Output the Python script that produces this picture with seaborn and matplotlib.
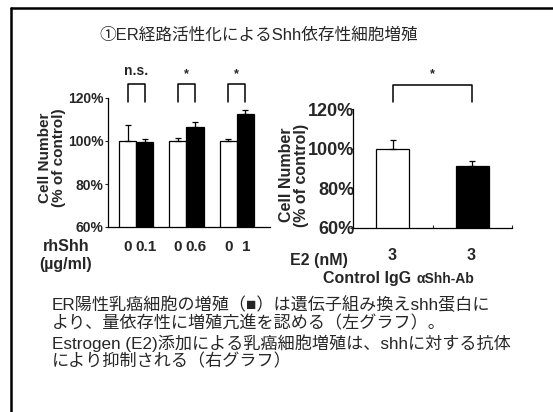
import numpy as np
import pandas as pd
import matplotlib
matplotlib.use("Agg")
import matplotlib.pyplot as plt
from matplotlib.lines import Line2D
import seaborn as sns

sns.set_style("white")
plt.rcParams['font.family'] = ['Liberation Sans', 'Noto Sans CJK JP', 'DejaVu Sans']

# left chart: rhShh dose, control (0) vs rhShh
dose_labels = ['0.1', '0.6', '1']
ctrl_vals = [100, 100, 100]
ctrl_err = [7.6, 1.4, 1.0]
shh_vals = [99.5, 106.7, 112.6]
shh_err = [1.5, 2.2, 2.0]
sig_left = ['n.s.', '*', '*']

# right chart: E2 3 nM with control IgG / anti-Shh antibody
ab_labels = ['Control IgG', 'αShh-Ab']
ab_vals = [100, 91.5]
ab_err = [4.6, 2.4]

yticks = [60, 80, 100, 120]
ytick_labels = ['60%', '80%', '100%', '120%']

W, H = 553, 412
fig = plt.figure(figsize=(W / 100, H / 100), dpi=100)
fig.patch.set_facecolor('white')


def px_axes(x0, y0, x1, y1):
    return fig.add_axes([x0 / W, 1 - y1 / H, (x1 - x0) / W, (y1 - y0) / H])


def T(x, y, s, **kw):
    kw.setdefault('ha', 'center')
    kw.setdefault('va', 'center')
    fig.text(x / W, 1 - y / H, s, **kw)


# frame
fig.add_artist(Line2D([11 / W, 1], [1 - 8 / H, 1 - 8 / H], color='black', lw=1.8))
fig.add_artist(Line2D([11 / W, 11 / W], [1 - 8 / H, 0], color='black', lw=1.8))

T(259, 35, '①ER経路活性化によるShh依存性細胞増殖', fontsize=12)

# ---- left chart
left_df = pd.DataFrame({
    'dose': dose_labels * 2,
    'treat': ['ctrl'] * 3 + ['shh'] * 3,
    'value': ctrl_vals + shh_vals,
})
ax1 = px_axes(108, 98, 270, 227)
sns.barplot(data=left_df, x='dose', y='value', hue='treat',
            palette={'ctrl': 'white', 'shh': 'black'}, edgecolor='black',
            linewidth=0.9, width=0.68, errorbar=None, legend=False, ax=ax1)
bar_x = []
for cont, errs in zip(ax1.containers, [ctrl_err, shh_err]):
    xs = [p.get_x() + p.get_width() / 2 for p in cont]
    hs = [p.get_height() for p in cont]
    ax1.errorbar(xs, hs, yerr=[np.zeros(len(errs)), errs], fmt='none',
                 ecolor='black', elinewidth=0.9, capsize=2, capthick=0.9)
    bar_x.append(xs)
ax1.set_ylim(60, 120)
ax1.set_xlim(-0.56, 2.66)
ax1.set_yticks(yticks)
ax1.set_yticklabels(ytick_labels, fontsize=10, fontweight='bold')
ax1.set_xticks([])
ax1.tick_params(axis='y', direction='out', length=2, width=0.8, pad=1, left=True)
for s in ['top', 'right']:
    ax1.spines[s].set_visible(False)
for s in ['left', 'bottom']:
    ax1.spines[s].set_color('black')
    ax1.spines[s].set_linewidth(0.9)
ax1.set_xlabel('')
ax1.set_ylabel('')

for i, lab in enumerate(sig_left):
    xa, xb = bar_x[0][i], bar_x[1][i]
    ax1.plot([xa, xa, xb, xb], [118.2, 126.5, 126.5, 118.2], color='black',
             lw=1.1, clip_on=False)
    ax1.text((xa + xb) / 2, 129.5 if lab == 'n.s.' else 128.5, lab,
             ha='center', va='bottom', fontsize=10 if lab == 'n.s.' else 9,
             fontweight='bold')

T(52, 158, 'Cell Number\n(% of control)', rotation=90, fontsize=11,
  fontweight='bold', linespacing=1.0)
T(66, 247, 'rhShh', fontsize=11.5, fontweight='bold')
T(66, 264, '(µg/ml)', fontsize=11.5, fontweight='bold')
for i, lab in enumerate(dose_labels):
    xa = ax1.transData.transform((bar_x[0][i], 0))[0]
    xb = ax1.transData.transform((bar_x[1][i], 0))[0]
    T(xa, 247, '0', fontsize=11, fontweight='bold')
    T(xb + 1, 247, lab, fontsize=11, fontweight='bold')

# ---- right chart
right_df = pd.DataFrame({'ab': ab_labels, 'value': ab_vals})
ax2 = px_axes(353, 109, 512, 228)
sns.barplot(data=right_df, x='ab', y='value', hue='ab',
            palette=['white', 'black'], edgecolor='black', linewidth=0.9,
            width=0.41, errorbar=None, legend=False, ax=ax2)
rx = [p.get_x() + p.get_width() / 2 for p in ax2.patches]
rh = [p.get_height() for p in ax2.patches]
ax2.errorbar(rx, rh, yerr=[np.zeros(2), ab_err], fmt='none', ecolor='black',
             elinewidth=0.9, capsize=2.5, capthick=0.9)
ax2.set_ylim(60, 120)
ax2.set_xlim(-0.5, 1.5)
ax2.set_yticks(yticks)
ax2.set_yticklabels(ytick_labels, fontsize=13, fontweight='bold')
ax2.set_xticks([0.5, 1.5])
ax2.set_xticklabels([])
ax2.tick_params(axis='x', direction='in', length=2, width=0.8, bottom=True)
ax2.tick_params(axis='y', direction='out', length=2, width=0.8, pad=-3, left=True)
for s in ['top', 'right']:
    ax2.spines[s].set_visible(False)
for s in ['left', 'bottom']:
    ax2.spines[s].set_color('black')
    ax2.spines[s].set_linewidth(0.9)
ax2.set_xlabel('')
ax2.set_ylabel('')
ax2.plot([rx[0], rx[0], rx[1], rx[1]], [123.6, 132.3, 132.3, 123.6],
         color='black', lw=1.1, clip_on=False)
ax2.text(sum(rx) / 2, 134.5, '*', ha='center', va='bottom', fontsize=9,
         fontweight='bold')

T(294, 175, 'Cell Number\n(% of control)', rotation=90, fontsize=11.5,
  fontweight='bold', linespacing=1.0)
T(319, 260, 'E2 (nM)', fontsize=11.5, fontweight='bold')
for x in rx:
    xp = ax2.transData.transform((x, 0))[0]
    T(xp - 1, 255, '3', fontsize=11.5, fontweight='bold')
T(367, 278, 'Control IgG', fontsize=11.5, fontweight='bold')
T(445, 279, 'αShh-Ab', fontsize=10, fontweight='bold')

# ---- caption
body = [
    'ER陽性乳癌細胞の増殖（■）は遺伝子組み換えshh蛋白に',
    'より、量依存性に増殖亢進を認める（左グラフ）。',
    'Estrogen (E2)添加による乳癌細胞増殖は、shhに対する抗体',
    'により抑制される（右グラフ）',
]
for yy, line in zip([305, 323, 343, 361], body):
    T(52, yy, line, ha='left', fontsize=12.3)

fig.savefig('out.png', dpi=100, facecolor='white')
